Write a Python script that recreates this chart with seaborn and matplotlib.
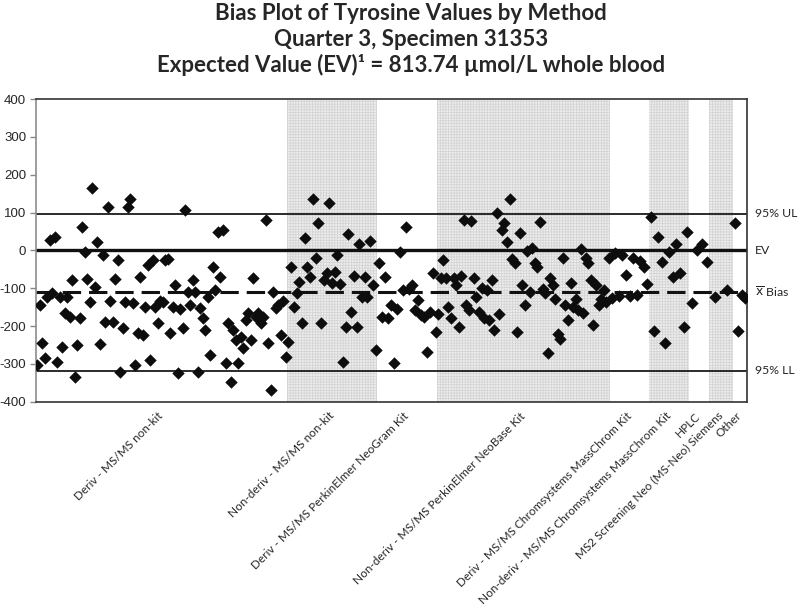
import matplotlib
matplotlib.use("Agg")
import matplotlib.pyplot as plt
import matplotlib.transforms as mtransforms
import seaborn as sns
import pandas as pd

# ---------------- data ----------------
methods = [
    "Deriv - MS/MS non-kit",
    "Non-deriv - MS/MS non-kit",
    "Deriv - MS/MS PerkinElmer NeoGram Kit",
    "Non-deriv - MS/MS PerkinElmer NeoBase Kit",
    "Deriv - MS/MS Chromsystems MassChrom Kit",
    "Non-deriv - MS/MS Chromsystems MassChrom Kit",
    "HPLC",
    "MS2 Screening Neo (MS-Neo) Siemens",
    "Other",
]

bias_deriv_nonkit = [
    -303, -145, -244, -285, -123, 27, -114, 36, -294, -123, -255, -166, -123,
    -175, -78, -334, -250, -178, 62, -4, -75, -136, 166, -96, 23, -247, -12,
    -189, 115, -133, -189, -75, -26, -321, -206, -136, 115, 137, -139, -303,
    -219, -71, -223, -149, -39, -290, -26, -149, -193, -133, -136,
    -26, -23, -219, -149, -92, -325, -154, -206, 106, -109, -145, -78, -109,
    -321, -153, -178, -211, -123, -277, -43, -105, 49, -70, 54, -299, -193,
    -347, -211, -237, -299, -228, -259, -184, -166, -237, -74, -175, -166,
    -193, -175, 80, -246, -369, -109, -153, -145, -223, -133, -281,
]
bias_nonderiv_nonkit = [
    -241, -45, -149, -112, -83, -193, 32, -45, -71, 137, -21, 73, -193, -78,
    -61, 124, -87, -58, -12, -90, -294, -202, 43, -162, -69, -202, 18, -123,
    -71, -123, 25, -92, -263,
]
bias_neogram = [
    -34, -175, -70, -178, -145, -299, -154, -4, -105, 62, -101, -92, -158,
    -132, -171, -175, -268, -162, -61, -215,
]
bias_neobase = [
    -168, -73, -26, -73, -151, -178, -73, -92, -203, -68, 80, -145, -158, 78,
    -73, -123, -162, -100, -178, -105, -184, -78, -211, 99, -168, 55, 71, 23,
    135, -23, -34, -215, 46, -92, -145, -1, -109, 5, -34, -43, 76, -101, -114,
    -272, -74, -92, -128, -220, -233, -21, -145, -184, -87, -149, -128, -158,
    3, -165, -21, -34, -79, -198, -92, -145, -128, -105, -137, -19,
]
bias_deriv_masschrom = [-127, -8, -121, -11, -64, -121, -19, -119, -28, -44, -90]
bias_nonderiv_masschrom = [89, -212, 34, -31, -246, -4, -70, 18, -61, -203, 49]
bias_hplc = [-140, 1, 16, -31]
bias_ms2neo = [-123, -105]
bias_other = [73, -214, -119, -127]

group_values = [
    bias_deriv_nonkit, bias_nonderiv_nonkit, bias_neogram, bias_neobase,
    bias_deriv_masschrom, bias_nonderiv_masschrom, bias_hplc, bias_ms2neo,
    bias_other,
]

# reference lines
ref_names = ["95% UL", "EV", r"$\overline{\mathrm{x}}$ Bias", "95% LL"]
ref_values = [97, 0, -110, -318]

y_ticks = [-400, -300, -200, -100, 0, 100, 200, 300, 400]

# ---------------- layout (relative width of each method band) ----------------
band_width = [251, 90, 60, 173, 39, 40, 20, 24, 14]

rows = []
bands = []
start = 0.0
for m, vals, w in zip(methods, group_values, band_width):
    n = len(vals)
    for i, v in enumerate(vals):
        rows.append({"method": m, "pos": start + (i + 0.5) * w / n, "bias": v})
    bands.append((start, start + w))
    start += w
df = pd.DataFrame(rows)
total = start

# ---------------- style ----------------
sns.set_theme(style="white")
plt.rcParams["font.family"] = ["Lato", "DejaVu Sans"]
plt.rcParams["hatch.linewidth"] = 0.5

W, H = 800, 612
fig = plt.figure(figsize=(W / 100, H / 100), dpi=100)
ax = fig.add_axes([36 / W, 1 - 401.7 / H, 711 / W, 302.7 / H])

# shaded alternating bands
for k, (s, e) in enumerate(bands):
    if k % 2 == 1:
        ax.axvspan(s, e, facecolor="#ececec", edgecolor="#d2d2d2",
                   hatch="++++++", linewidth=0, zorder=0)

# reference lines
ax.axhline(ref_values[0], color="#1a1a1a", lw=1.3, zorder=1)
ax.axhline(ref_values[1], color="#111111", lw=2.4, zorder=1)
ax.axhline(ref_values[2], color="#111111", lw=2.2, dashes=(6, 2.6), zorder=1)
ax.axhline(ref_values[3], color="#1a1a1a", lw=1.3, zorder=1)

sns.scatterplot(data=df, x="pos", y="bias", marker="D", color="#0d0d0d",
                s=40, linewidth=0, ax=ax, legend=False, zorder=3)

ax.set_xlim(0, total)
ax.set_ylim(-400, 400)
ax.set_yticks(y_ticks)
ax.set_yticklabels([str(t) for t in y_ticks], fontsize=9.5,
                   family=["Liberation Sans"])
ax.tick_params(axis="y", length=4, width=1, color="#888888", pad=3,
               direction="out", left=True)

centers = [(s + e) / 2 for s, e in bands]
ax.set_xticks(centers)
ax.set_xticklabels(methods, rotation=45, ha="right", va="center",
                   rotation_mode="anchor", fontsize=8.5)
ax.tick_params(axis="x", length=0, pad=9)
ax.set_xlabel("")
ax.set_ylabel("")

for side, sp in ax.spines.items():
    sp.set_visible(True)
    sp.set_linewidth(1.2)
    sp.set_color("#333333")
ax.spines["left"].set_color("#8c8c8c")

# right-side labels
trans = mtransforms.blended_transform_factory(ax.transAxes, ax.transData)
for name, val in zip(ref_names, ref_values):
    ax.text(1.011, val, name, transform=trans, va="center", ha="left",
            fontsize=8.8)

# title
tx = 411 / W
title_kw = dict(ha="center", va="center", fontsize=16, fontweight="bold")
fig.text(tx, 1 - 13 / H, "Bias Plot of Tyrosine Values by Method", **title_kw)
fig.text(tx, 1 - 39 / H, "Quarter 3, Specimen 31353", **title_kw)
fig.text(tx, 1 - 65 / H,
         "Expected Value (EV)\u00b9 = 813.74 \u00b5mol/L whole blood",
         **title_kw)

fig.savefig("out.png", dpi=100)
